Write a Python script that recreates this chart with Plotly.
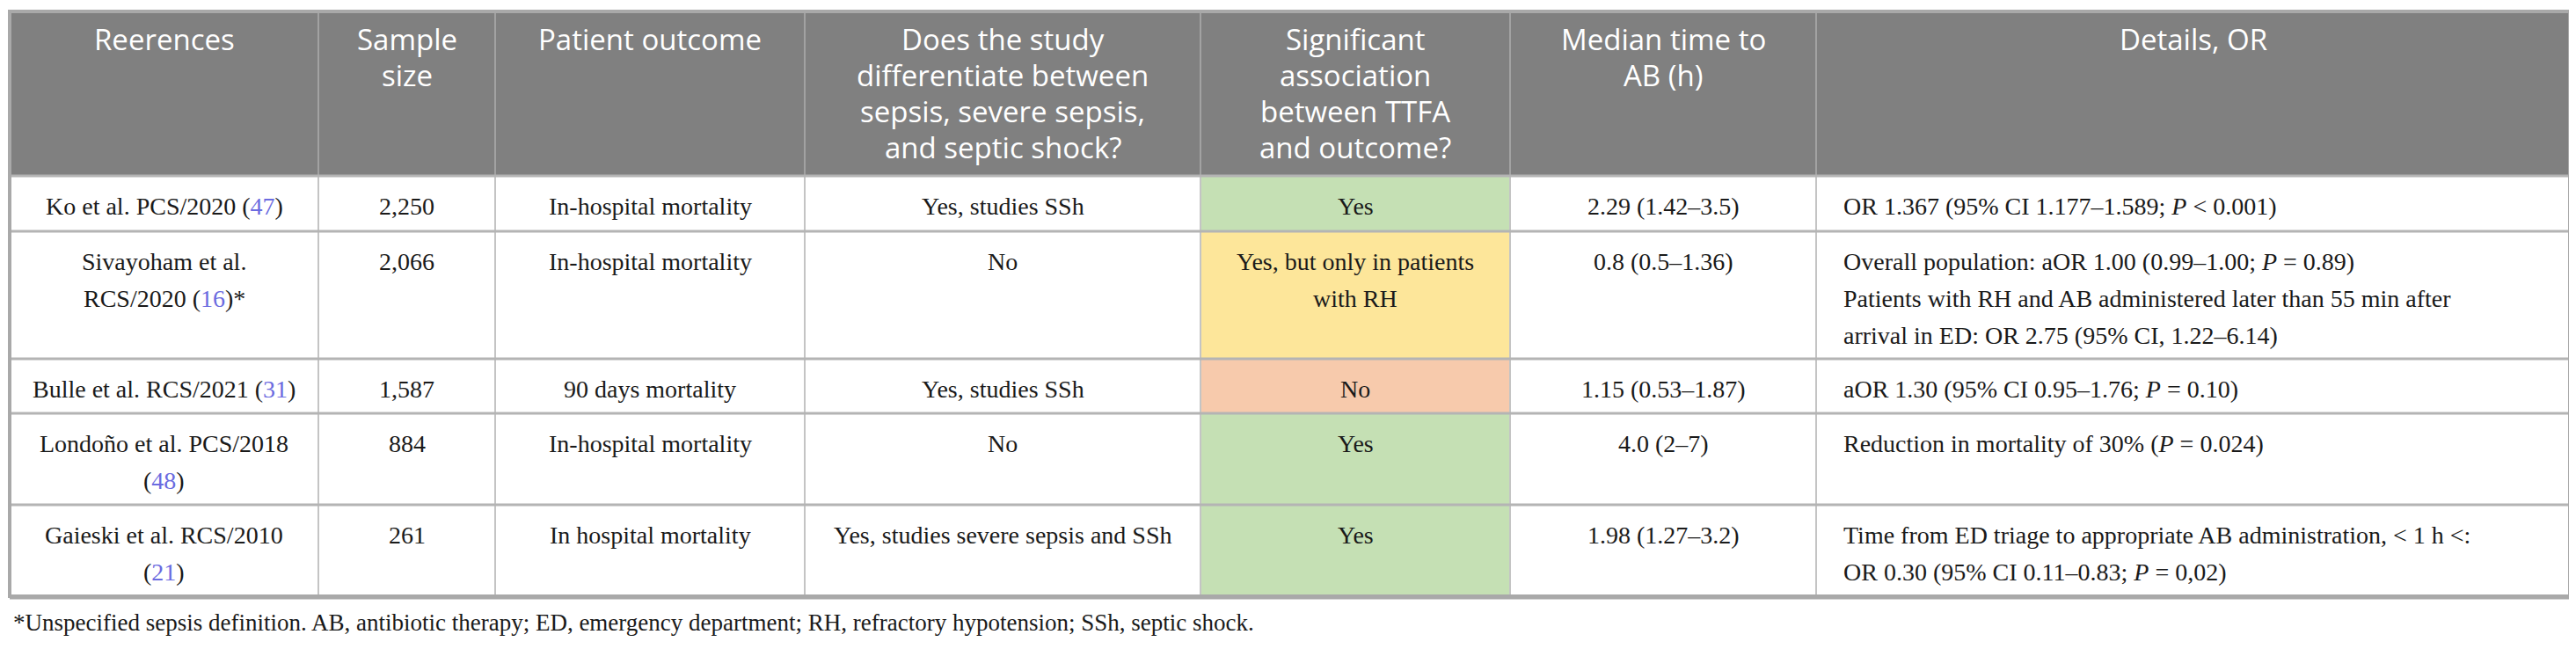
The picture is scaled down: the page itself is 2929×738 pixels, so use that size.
import re
import plotly.graph_objects as go

# ─────────────────────────────────────────────
# PODACI
# ─────────────────────────────────────────────

HEADERS = [
    ["Reerences"],
    ["Sample", "size"],
    ["Patient outcome"],
    ["Does the study", "differentiate between", "sepsis, severe sepsis,", "and septic shock?"],
    ["Significant", "association", "between TTFA", "and outcome?"],
    ["Median time to", "AB (h)"],
    ["Details, OR"],
]

STUDY = [
    ["Ko et al. PCS/2020 (47)"],
    ["Sivayoham et al.", "RCS/2020 (16)*"],
    ["Bulle et al. RCS/2021 (31)"],
    ["Londoño et al. PCS/2018", "(48)"],
    ["Gaieski et al. RCS/2010", "(21)"],
]
SAMPLE = [["2,250"], ["2,066"], ["1,587"], ["884"], ["261"]]
OUTCOME = [
    ["In-hospital mortality"],
    ["In-hospital mortality"],
    ["90 days mortality"],
    ["In-hospital mortality"],
    ["In hospital mortality"],
]
DIFFERENTIATES = [
    ["Yes, studies SSh"],
    ["No"],
    ["Yes, studies SSh"],
    ["No"],
    ["Yes, studies severe sepsis and SSh"],
]
ASSOCIATION = [
    ["Yes"],
    ["Yes, but only in patients", "with RH"],
    ["No"],
    ["Yes"],
    ["Yes"],
]
ASSOC_CLASS = ["yes", "partial", "no", "yes", "yes"]
MEDIAN_TTA = [["2.29 (1.42–3.5)"], ["0.8 (0.5–1.36)"], ["1.15 (0.53–1.87)"],
              ["4.0 (2–7)"], ["1.98 (1.27–3.2)"]]
DETAILS = [
    ["OR 1.367 (95% CI 1.177–1.589; P < 0.001)"],
    ["Overall population: aOR 1.00 (0.99–1.00; P = 0.89)",
     "Patients with RH and AB administered later than 55 min after",
     "arrival in ED: OR 2.75 (95% CI, 1.22–6.14)"],
    ["aOR 1.30 (95% CI 0.95–1.76; P = 0.10)"],
    ["Reduction in mortality of 30% (P = 0.024)"],
    ["Time from ED triage to appropriate AB administration, < 1 h <:",
     "OR 0.30 (95% CI 0.11–0.83; P = 0,02)"],
]

FOOTNOTE = ("*Unspecified sepsis definition. AB, antibiotic therapy; ED, emergency "
            "department; RH, refractory hypotension; SSh, septic shock.")

# ─────────────────────────────────────────────
# IZGLED
# ─────────────────────────────────────────────

W, H = 2929, 738
BODY_MARGIN = 8          # browser stavlja 8px oko <body>
X0 = 11
COL_WIDTHS = [351, 201, 352, 450, 352, 348, 857]
Y_TOP = 13
HEADER_H = 187
ROW_H = [63, 145, 62, 104, 104]

BOJA_HEAD = "#808080"
BOJA_ASSOC = {"yes": "#c5e0b4", "partial": "#fde69a", "no": "#f7caac"}
BOJA_REF = "#6b6be0"
LINIJA_OKVIR = "#a9a9a9"
LINIJA_RED = "#b4b4b4"
LINIJA_KOL = "#c4c4c4"
LINIJA_HEAD = "#a2a2a2"

HEAD_FONT = dict(family="Open Sans", size=33, color="white")
BODY_FONT = dict(family="Liberation Serif", size=28, color="#1a1a1a")

col_edges = [X0]
for w in COL_WIDTHS:
    col_edges.append(col_edges[-1] + w)
row_edges = [Y_TOP + HEADER_H]
for h in ROW_H:
    row_edges.append(row_edges[-1] + h)


def fmt(s, refs=False):
    s = s.replace("<", "&lt;")
    s = re.sub(r"\bP (=|&lt;)", r"<i>P</i> \1", s)
    if refs:
        s = re.sub(r"\((\d+)\)", rf"(<span style='color:{BOJA_REF}'>\1</span>)", s)
    return s


shapes = []
annotations = []


def rect(x0, x1, y0, y1, fill):
    shapes.append(dict(type="rect", xref="x", yref="y", x0=x0, x1=x1, y0=y0, y1=y1,
                       fillcolor=fill, line=dict(width=0), layer="below"))


def line(x0, x1, y0, y1, color, width):
    shapes.append(dict(type="line", xref="x", yref="y", x0=x0, x1=x1, y0=y0, y1=y1,
                       line=dict(color=color, width=width)))


def text(x, y, s, font, anchor="center"):
    annotations.append(dict(xref="x", yref="y", x=x, y=y, text=s, showarrow=False,
                            xanchor=anchor, yanchor="middle", font=font))


# zaglavlje
rect(col_edges[0], col_edges[-1], Y_TOP, row_edges[0], BOJA_HEAD)
for c, lines in enumerate(HEADERS):
    cx = (col_edges[c] + col_edges[c + 1]) / 2
    for k, ln in enumerate(lines):
        text(cx, Y_TOP + 31 + 41 * k, ln, HEAD_FONT)

# telo tabele
columns = [STUDY, SAMPLE, OUTCOME, DIFFERENTIATES, ASSOCIATION, MEDIAN_TTA, DETAILS]
for r in range(len(STUDY)):
    top, bot = row_edges[r], row_edges[r + 1]
    rect(col_edges[4], col_edges[5], top, bot, BOJA_ASSOC[ASSOC_CLASS[r]])
    for c, col in enumerate(columns):
        for k, ln in enumerate(col[r]):
            y = top + 34 + 42 * k
            if c == len(columns) - 1:
                text(col_edges[c] + 29, y, fmt(ln), BODY_FONT, anchor="left")
            else:
                cx = (col_edges[c] + col_edges[c + 1]) / 2
                text(cx, y, fmt(ln, refs=(c == 0)), BODY_FONT)

# linije
for c in range(1, len(COL_WIDTHS)):
    line(col_edges[c], col_edges[c], Y_TOP, row_edges[0], LINIJA_HEAD, 2)
    line(col_edges[c], col_edges[c], row_edges[0], row_edges[-1], LINIJA_KOL, 2)
for r in range(1, len(ROW_H)):
    line(col_edges[0], col_edges[-1], row_edges[r], row_edges[r], LINIJA_RED, 3)
line(col_edges[0], col_edges[-1], row_edges[0], row_edges[0], LINIJA_RED, 3)
shapes.append(dict(type="rect", xref="x", yref="y", x0=col_edges[0], x1=col_edges[-1],
                   y0=Y_TOP, y1=row_edges[-1], line=dict(color=LINIJA_OKVIR, width=4)))
line(col_edges[0], col_edges[-1], row_edges[-1] + 1, row_edges[-1] + 1, LINIJA_OKVIR, 5)

# fusnota
text(X0 + 2, row_edges[-1] + 30, fmt(FOOTNOTE), dict(BODY_FONT, size=27), anchor="left")

fig = go.Figure()
fig.update_layout(
    width=W - BODY_MARGIN, height=H - BODY_MARGIN,
    margin=dict(l=0, r=0, t=0, b=0),
    plot_bgcolor="white", paper_bgcolor="white",
    # koordinate = pikseli stranice (pomeraj zbog margine body-ja)
    xaxis=dict(range=[BODY_MARGIN, W], visible=False, fixedrange=True),
    yaxis=dict(range=[H, BODY_MARGIN], visible=False, fixedrange=True),
    shapes=shapes,
    annotations=annotations,
    showlegend=False,
)

fig.write_html("out.html")
